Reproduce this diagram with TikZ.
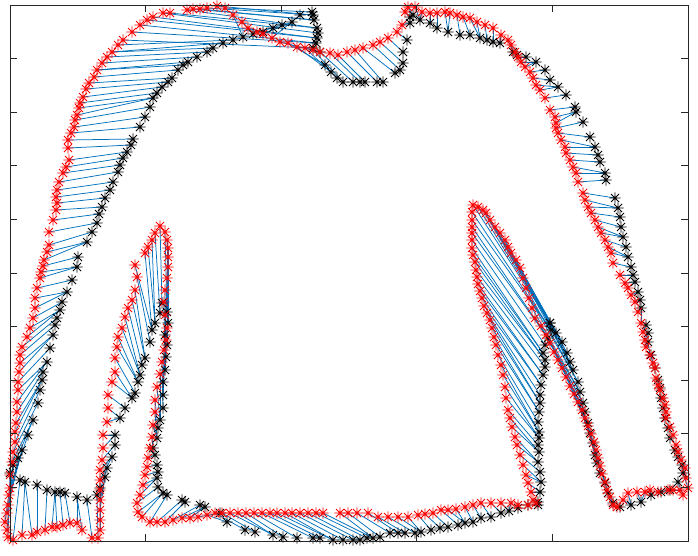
\documentclass[tikz,border=0pt]{standalone}
\pgfdeclarelayer{bg}
\pgfsetlayers{bg,main}
\definecolor{lnk}{rgb}{0,0.447,0.741}
\definecolor{axc}{rgb}{0.15,0.15,0.15}
\tikzset{
  ast/.pic={\draw[line width=0.75pt] (-5.6,0)--(5.6,0) (0,-5.6)--(0,5.6) (-4,-4)--(4,4) (-4,4)--(4,-4);},
  link/.style={draw=lnk,line width=0.75pt},
  frame/.style={draw=axc,line width=0.9pt},
  axtick/.style={draw=axc,line width=0.9pt},
}
\newcommand\Seg[3]{%
  \foreach \x/\y [count=\i] in {#2}{\coordinate (R#1-\i) at (\x,\y); \expandafter\xdef\csname nr#1\endcsname{\i}}%
  \foreach \x/\y [count=\i] in {#3}{\coordinate (B#1-\i) at (\x,\y); \expandafter\xdef\csname nb#1\endcsname{\i}}%
  \edef\SegR{\csname nr#1\endcsname}\edef\SegB{\csname nb#1\endcsname}%
  \pgfmathtruncatemacro\SegM{max(\SegR,\SegB)}%
  \begin{pgfonlayer}{bg}%
  \foreach \k in {1,...,\SegM}{%
    \pgfmathtruncatemacro\SegI{round(1+(\k-1)*(\SegR-1)/(\SegM-1))}%
    \pgfmathtruncatemacro\SegJ{round(1+(\k-1)*(\SegB-1)/(\SegM-1))}%
    \draw[link] (R#1-\SegI) -- (B#1-\SegJ);}%
  \end{pgfonlayer}%
}
\begin{document}
\begin{tikzpicture}[x=1pt,y=-1pt]
\begin{pgfonlayer}{bg}
\fill[white] (0,0) rectangle (698,555);
\end{pgfonlayer}
\useasboundingbox (0,0) rectangle (698,555);
\Seg{a}{8/537,7/530,5/522,7/513,8/505,9/495,10/488,10/475,12/462,13/452,15/442,15/432,16/423,17/412,17/402,18/390,18/382,19/372,20/363,20/355}
{10/473,13/465,18/458,22/450,28/435,33/420,38/403,40/390,42/380,43/372,47/362,50/348,53/335,55/325}
\Seg{b}{22/347,27/337,30/328,33/318,35/308,35/298,37/288,40/278,41/272,43/266,44/260,47/252,49/245}
{57/318,60/310,62/302,67/292,72/280,77/267,78/257,87/242,92/232}
\Seg{c}{49/232,53/220,56/210,57/203,56/197,57/190,59/182,63/173,66/167,69/160}
{97/223,99/214,102/207,105/198,110/190,113/182,118/172,120/165,123/158,127/152}
\Seg{d}{68/148,68/140,71/133,74/127,75/120,77/115,79/108,80/103,83/97,86/89,89/83}
{131/145,133/139,140/127,145/117,150/107,153/98,157/93,162/87,168/82,172/78}
\Seg{e}{94/77,97/70,102/63,107/57,112/52,118/45}
{178/70,183/65,188/62,197/57,207/52,213/48,223/43,233/40}
\Seg{f}{123/40,132/32,140/25,147/20,153/17,163/13,170/13,187/10,193/9,200/9,207/8,217/6,225/8}
{313/48,316/43,317/38,318/33,317/28,314/20,313/15,312/12}
\Seg{g}{233/15,242/22,248/28,257/32,263/34,272/38}
{243/37,253/34,263/32,273/28,282/25,292/22,300/15}
\Seg{h}{280/42,288/43,297/47,305/48,313/50,320/52,330/53,338/55,347/52,355/50,363/48,373/45,380/42,388/38,397/32,402/25}
{320/52,325/65,331/72,337/78,343/82,353/82,360/82,365/82,377/82,383/82,395/73,400/70,403/63,403/52,407/40,410/23}
\Seg{i}{405/12,408/7,415/7,422/12,430/13,437/13,445/12,450/13,457/15,463/17,470/18,477/22,485/25,493/28}
{410/17,413/15,420/20,430/23,437/28,448/32,460/35,470/35,480/38,487/40,493/42}
\Seg{j}{501/35,508/40,511/45,515/52,518/57,521/62,525/67,530/72,533/78,536/85,540/90,545/98,550/110,555/117,556/123,556/128,558/133,561/140,565/147,566/153,570/160,573/167,576/173,578/182,583/193,585/200,588/207,591/213,595/220,598/227,601/233,605/240,608/247,611/253,613/263,620/275,625/283,628/288,631/295,635/302,638/312,641/323,643/332,645/340,646/347,650/355,653/363,655/368,656/378,658/385,660/390,663/398,665/405,666/412,666/418,670/427,673/435,676/445,678/452,681/460,685/468,686/478,688/488}
{500/43,513/52,517/55,526/57,536/62,545/70,550/80,558/87,566/95,575/107,576/112,583/122,590/137,595/147,598/155,600/162,605/173,606/180,615/198,618/208,620/217,621/227,623/237,626/247,628/257,631/267,633/275,635/282,638/292,640/300,641/308,646/325,648/333,648/342,651/355,655/368,658/380,660/388,661/398,663/408,665/418,668/428,670/438,675/450,678/457,682/465,683/473}
\Seg{k}{683/495,680/490,673/490,668/490,658/492,650/490,645/492,637/492,628/493,623/500,617/507}
{678/482,670/490,661/492,651/495,641/502,631/505,620/507}
\Seg{l}{613/505,610/497,607/490,605/482,602/474,600/466,598/458,596/450,594/442,591/434,588/426,585/418,582/410,578/402,574/394,570/386,566/377,562/368,558/360,554/352,550/343,546/335,541/326,535/318,532/308,529/298,526/288,523/278,520/268,516/260,511/253,508/247,505/240,500/233,495/227,490/220,486/213,483/210,478/207}
{613/503,608/493,605/483,600/473,597/463,595/455,593/443,590/433,588/423,585/412,583/403,580/392,578/382,573/370,570/362,567/353,562/342,556/333,550/323}
\Seg{m}{473/205,472/212,472/220,472/227,472/233,472/240,472/248,473/255,475/262,476/270,477/277,478/284,480/291,482/298,484/306,487/313,490/320,492/328,494/337,496/345,498/355,501/365,503/375,505/387,506/398,508/410,510/418,512/427,515/437,517/445,520/455,523/465,526/475,528/483,531/492,533/500}
{550/323,551/330,548/338,545/345,543/353,545/360,545/367,543/375,541/385,540/395,540/403,539/412,538/422,539/432,539/438,538/445,539/452,538/462,540/472,541/482,540/492,538/502}
\Seg{n}{536/503,528/505,518/505,511/503,501/503,491/503,481/503,473/505,465/507,456/509,448/510,441/510,433/513,425/514,418/515,408/517,398/517,388/517,378/517,368/513,357/513,348/513,340/513,323/513,316/513,308/513,300/513,292/513,285/513,277/513,270/513,262/513,254/513,246/513,238/513,230/513,222/513,215/513,207/515,198/517,190/518,182/518,173/520,165/522,157/522}
{538/505,528/505,518/508,509/511,501/513,491/517,481/518,473/522,465/523,458/525,448/527,440/528,431/530,421/532,415/533,405/533,398/533,390/533,380/537,373/538,367/538,360/540,353/540,343/540,333/540,320/538,313/538,297/538,283/537,273/535,255/532,245/530,227/522,220/513,205/507,200/505,185/502,182/500}
\Seg{o}{150/522,142/517,138/512,137/503,140/495,143/485,145/475,147/467,148/458,150/448,152/437,153/425,155/412,155/400,157/387,160/374,162/362,164/350,166/340,167/328,165/315,164/302,165/290,167/278,168/267,168/257,168/248,167/240,165/232,160/226}
{167/495,163/493,158/487,157/478,158/472,157/465,155/455,153/448,157/438,158/428,160/420,163/408,163/395,163/382,165/370,166/357,167/345,165/335,168/323,167/312,162/303}
\Seg{p}{155/233,152/240,148/247,145/253,135/265,137/277,135/290,132/300,128/308,125/317,122/328,118/337,117/347,115/358,115/372,112/382,108/395,108/408,107/422,103/435,103/448,102/460,100/470,100/480,100/490,100/500,100/510,100/520,100/530,98/538}
{160/313,155/323,152/330,150/342,145/358,142/365,140/375,138/382,135/393,132/398,125/408,120/418,115/435,115/445,112/457,107/468,105/477,100/488,97/495}
\Seg{q}{92/538,82/530,77/523,70/523,63/525,57/527,52/527,45/530,37/532,32/535,22/535,13/540}
{87/500,77/497,65/493,60/492,55/492,47/490,37/485,25/482,20/480}
% markers
\foreach \s in {a,b,c,d,e,f,g,h,i,j,k,l,m,n,o,p,q}{%
  \edef\nn{\csname nb\s\endcsname}%
  \foreach \t in {1,...,\nn}{\path (B\s-\t) pic[black]{ast};}}
\foreach \s in {a,b,c,d,e,f,g,h,i,j,k,l,m,n,o,p,q}{%
  \edef\nn{\csname nr\s\endcsname}%
  \foreach \t in {1,...,\nn}{\path (R\s-\t) pic[red]{ast};}}
% axes
\draw[frame] (10,5) rectangle (688,541);
\foreach \xx in {145.6,281.2,416.8,552.4}{\draw[axtick] (\xx,541)--(\xx,534.2); \draw[axtick] (\xx,5)--(\xx,11.8);}
\foreach \yy in {58.6,112.2,165.8,219.4,273,326.6,380.2,433.8,487.4}{\draw[axtick] (10,\yy)--(16.8,\yy); \draw[axtick] (688,\yy)--(681.2,\yy);}
\end{tikzpicture}
\end{document}
